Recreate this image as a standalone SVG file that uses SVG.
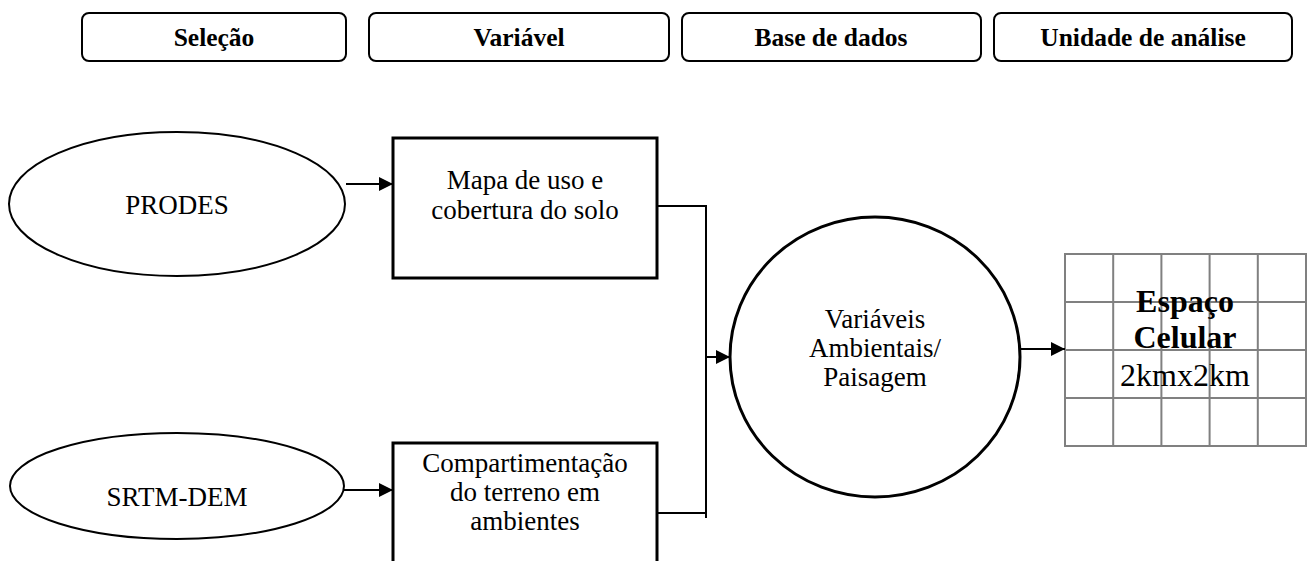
<svg xmlns="http://www.w3.org/2000/svg" width="1307" height="561" viewBox="0 0 1307 561">
<style>
.hdr{fill:#fff;stroke:#000;stroke-width:2}
.ht{font-family:"Liberation Serif","Times New Roman",Times,serif;font-weight:bold;font-size:25.5px;text-anchor:middle;fill:#000}
.t{font-family:"Liberation Serif","Times New Roman",Times,serif;font-size:27px;text-anchor:middle;fill:#000}
.tb{font-family:"Liberation Serif","Times New Roman",Times,serif;font-size:32px;font-weight:bold;text-anchor:middle;fill:#000}
.tg{font-family:"Liberation Serif","Times New Roman",Times,serif;font-size:32px;text-anchor:middle;fill:#000}
.ell{fill:#fff;stroke:#000;stroke-width:2}
.box{fill:#fff;stroke:#000;stroke-width:3}
.con{fill:none;stroke:#000;stroke-width:2}
.grid{fill:none;stroke:#808080;stroke-width:2}
</style>
<defs>
<marker id="arr" markerWidth="14" markerHeight="14" refX="14" refY="7" orient="auto" markerUnits="userSpaceOnUse">
<path d="M0,0 L14,7 L0,14 Z" fill="#000"/>
</marker>
</defs>
<g id="hdr-selecao"><rect class="hdr" x="82" y="13" width="264" height="48" rx="7"/><text class="ht" x="214" y="46">Seleção</text></g>
<g id="hdr-variavel"><rect class="hdr" x="369" y="13" width="300" height="48" rx="7"/><text class="ht" x="519" y="46">Variável</text></g>
<g id="hdr-base"><rect class="hdr" x="682" y="13" width="299" height="48" rx="7"/><text class="ht" x="831" y="46">Base de dados</text></g>
<g id="hdr-unidade"><rect class="hdr" x="994" y="13" width="298" height="48" rx="7"/><text class="ht" x="1143" y="46">Unidade de análise</text></g>

<g id="prodes"><ellipse class="ell" cx="177" cy="204" rx="168" ry="72"/><text class="t" x="177" y="214">PRODES</text></g>
<g id="srtm"><ellipse class="ell" cx="177" cy="486" rx="167" ry="53"/><text class="t" x="177" y="506">SRTM-DEM</text></g>
<g id="mapa"><rect class="box" x="393" y="138" width="264" height="140"/><text class="t" x="525" y="189">Mapa de uso e</text><text class="t" x="525" y="219">cobertura do solo</text></g>
<g id="compart"><rect class="box" x="393" y="443" width="264" height="130"/><text class="t" x="525" y="472">Compartimentação</text><text class="t" x="525" y="501">do terreno em</text><text class="t" x="525" y="530">ambientes</text></g>
<g id="variaveis"><ellipse class="box" cx="875" cy="357" rx="145" ry="140"/><text class="t" x="875" y="328">Variáveis</text><text class="t" x="875" y="357">Ambientais/</text><text class="t" x="875" y="386">Paisagem</text></g>
<g id="espaco">
<rect x="1065" y="254" width="241" height="192" fill="#fff"/>
<path class="grid" d="M1065,254H1306V446H1065Z M1113.2,254V446 M1161.4,254V446 M1209.6,254V446 M1257.8,254V446 M1065,302H1306 M1065,350H1306 M1065,398H1306"/>
<text class="tb" x="1185" y="312">Espaço</text><text class="tb" x="1185" y="348">Celular</text><text class="tg" x="1185" y="386">2kmx2km</text>
</g>
<g id="connectors">
<line class="con" x1="346" y1="184" x2="393" y2="184" marker-end="url(#arr)"/>
<line class="con" x1="344" y1="490" x2="393" y2="490" marker-end="url(#arr)"/>
<polyline class="con" points="657,206 706,206 706,518"/>
<line class="con" x1="657" y1="513" x2="706" y2="513"/>
<line class="con" x1="706" y1="357" x2="730" y2="357" marker-end="url(#arr)"/>
<line class="con" x1="1020" y1="349" x2="1065" y2="349" marker-end="url(#arr)"/>
</g>
</svg>
